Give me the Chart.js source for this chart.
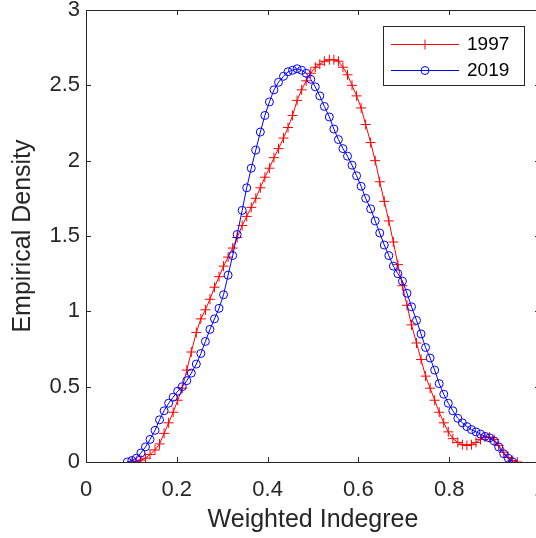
<!DOCTYPE html>
<html>
<head>
<meta charset="utf-8">
<script src="https://cdn.jsdelivr.net/npm/chart.js@4.4.1/dist/chart.umd.min.js"></script>
<style>
  html, body { margin: 0; padding: 0; background: #fff; overflow: hidden; }
  #wrap { width: 550px; height: 538px; }
</style>
</head>
<body>
<div id="wrap"><canvas id="density-chart" width="550" height="538"></canvas></div>
<script>
// Kernel density estimate, evaluated on a shared grid of weighted indegree values
const weights = [0.091, 0.101, 0.111, 0.121, 0.131, 0.141, 0.152, 0.162, 0.172, 0.182,
  0.192, 0.202, 0.212, 0.222, 0.232, 0.243, 0.253, 0.263, 0.273, 0.283,
  0.293, 0.303, 0.313, 0.323, 0.333, 0.344, 0.354, 0.364, 0.374, 0.384,
  0.394, 0.404, 0.414, 0.424, 0.435, 0.445, 0.455, 0.465, 0.475, 0.485,
  0.495, 0.505, 0.515, 0.525, 0.536, 0.546, 0.556, 0.566, 0.576, 0.586,
  0.596, 0.606, 0.616, 0.627, 0.637, 0.647, 0.657, 0.667, 0.677, 0.687,
  0.697, 0.707, 0.717, 0.728, 0.738, 0.748, 0.758, 0.768, 0.778, 0.788,
  0.798, 0.808, 0.819, 0.829, 0.839, 0.849, 0.859, 0.869, 0.879, 0.889,
  0.899, 0.909, 0.920, 0.930, 0.940, 0.950];

const density1997 = [null, 0.00, 0.005, 0.012, 0.025, 0.05, 0.08, 0.12, 0.19, 0.26,
  0.33, 0.41, 0.49, 0.61, 0.73, 0.86, 0.95, 1.01, 1.08, 1.16,
  1.23, 1.30, 1.36, 1.42, 1.49, 1.57, 1.63, 1.69, 1.75, 1.82,
  1.89, 1.95, 2.02, 2.08, 2.15, 2.22, 2.30, 2.40, 2.47, 2.53,
  2.58, 2.62, 2.64, 2.66, 2.67, 2.67, 2.66, 2.62, 2.57, 2.50,
  2.43, 2.35, 2.24, 2.12, 2.00, 1.86, 1.73, 1.60, 1.46, 1.31,
  1.17, 1.04, 0.91, 0.79, 0.68, 0.57, 0.49, 0.41, 0.33, 0.26,
  0.20, 0.155, 0.13, 0.115, 0.11, 0.115, 0.13, 0.15, 0.165, 0.165,
  0.15, 0.11, 0.065, 0.03, 0.01, 0.00];

const density2019 = [0.00, 0.01, 0.025, 0.06, 0.10, 0.15, 0.21, 0.28, 0.34, 0.39,
  0.43, 0.47, 0.50, 0.54, 0.59, 0.65, 0.72, 0.80, 0.88, 0.95,
  1.02, 1.11, 1.24, 1.37, 1.51, 1.67, 1.82, 1.95, 2.07, 2.19,
  2.30, 2.39, 2.47, 2.52, 2.56, 2.59, 2.60, 2.61, 2.60, 2.58,
  2.54, 2.49, 2.43, 2.36, 2.29, 2.21, 2.14, 2.08, 2.03, 1.97,
  1.90, 1.83, 1.75, 1.68, 1.60, 1.52, 1.44, 1.37, 1.30, 1.25,
  1.20, 1.12, 1.03, 0.94, 0.85, 0.76, 0.69, 0.61, 0.52, 0.45,
  0.39, 0.34, 0.29, 0.26, 0.235, 0.215, 0.20, 0.185, 0.17, 0.16,
  0.14, 0.10, 0.055, 0.025, 0.00, null];

const seriesNames = ['1997', '2019'];
const xTicks = [0, 0.2, 0.4, 0.6, 0.8, 1];
const yTicks = [0, 0.5, 1, 1.5, 2, 2.5, 3];

const AXIS_COLOR = '#262626';
const FONT = 'Liberation Sans, Arial, Helvetica, sans-serif';

const toPoints = (ys) => weights.map((w, i) => ({x: w, y: ys[i]}));
const fmt = (v) => String(Number(v.toFixed(2)));

// no extra room for overhanging tick labels, the frame stays where MATLAB put it
const noOverhang = (scale) => {
    scale.paddingLeft = 0;
    scale.paddingRight = 0;
    scale.paddingTop = 0;
    scale.paddingBottom = 0;
};

// MATLAB style frame with inward tick marks on all four sides
const axesBox = {
    id: 'axesBox',
    afterDatasetsDraw(chart) {
        const {ctx, chartArea: a, scales} = chart;
        ctx.save();
        ctx.strokeStyle = AXIS_COLOR;
        ctx.lineWidth = 1;
        ctx.beginPath();
        ctx.rect(Math.round(a.left) + 0.5, Math.round(a.top) + 0.5,
            Math.round(a.right - a.left), Math.round(a.bottom - a.top));
        xTicks.forEach((v) => {
            const px = Math.round(scales.x.getPixelForValue(v)) + 0.5;
            ctx.moveTo(px, a.bottom); ctx.lineTo(px, a.bottom - 5);
            ctx.moveTo(px, a.top); ctx.lineTo(px, a.top + 5);
        });
        yTicks.forEach((v) => {
            const py = Math.round(scales.y.getPixelForValue(v)) + 0.5;
            ctx.moveTo(a.left, py); ctx.lineTo(a.left + 5, py);
            ctx.moveTo(a.right, py); ctx.lineTo(a.right - 5, py);
        });
        ctx.stroke();
        ctx.restore();
    }
};

// Boxed legend in the upper right, line + marker samples
const boxLegend = {
    id: 'boxLegend',
    afterDraw(chart) {
        const {ctx} = chart;
        const box = {x: 383.5, y: 26.5, w: 141, h: 59};
        ctx.save();
        ctx.fillStyle = '#fff';
        ctx.fillRect(box.x, box.y, box.w, box.h);
        ctx.strokeStyle = AXIS_COLOR;
        ctx.lineWidth = 1;
        ctx.strokeRect(box.x, box.y, box.w, box.h);
        chart.data.datasets.forEach((ds, i) => {
            const rowY = 44 + i * 26;
            ctx.strokeStyle = ds.borderColor;
            ctx.lineWidth = 1;
            ctx.beginPath();
            ctx.moveTo(391, rowY + 0.5);
            ctx.lineTo(459, rowY + 0.5);
            ctx.stroke();
            ctx.fillStyle = 'rgba(0,0,0,0)';
            ctx.strokeStyle = ds.pointBorderColor;
            Chart.helpers.drawPoint(ctx, {
                pointStyle: ds.pointStyle,
                radius: ds.pointRadius,
                borderWidth: 1
            }, 425, rowY + 0.5);
            ctx.fillStyle = '#000';
            ctx.font = '19px ' + FONT;
            ctx.textBaseline = 'middle';
            ctx.textAlign = 'left';
            ctx.fillText(seriesNames[i], 467, rowY + 1);
        });
        ctx.restore();
    }
};

const chart = new Chart(document.getElementById('density-chart'), {
    type: 'line',
    data: {
        datasets: [{
            label: seriesNames[0],
            data: toPoints(density1997),
            borderColor: '#ff0000',
            borderWidth: 1,
            pointStyle: 'cross',
            pointRadius: 5,
            pointBorderWidth: 1,
            pointBorderColor: '#ff0000',
            pointBackgroundColor: 'rgba(0,0,0,0)',
            tension: 0,
            order: 1
        }, {
            label: seriesNames[1],
            data: toPoints(density2019),
            borderColor: '#0000ff',
            borderWidth: 1,
            pointStyle: 'circle',
            pointRadius: 4,
            pointBorderWidth: 1,
            pointBorderColor: '#0000ff',
            pointBackgroundColor: 'rgba(0,0,0,0)',
            tension: 0,
            order: 0
        }]
    },
    options: {
        responsive: false,
        animation: false,
        events: [],
        layout: {
            autoPadding: false,
            padding: {left: 0, top: 10, right: 10, bottom: 0}
        },
        plugins: {
            legend: {display: false},
            tooltip: {enabled: false}
        },
        scales: {
            x: {
                type: 'linear',
                min: 0,
                max: 1,
                afterBuildTicks: (scale) => { scale.ticks = xTicks.map((v) => ({value: v})); },
                afterFit: (scale) => { scale.height = 76; noOverhang(scale); },
                grid: {display: false, drawTicks: false},
                border: {display: false},
                ticks: {
                    padding: 15,
                    maxRotation: 0,
                    color: AXIS_COLOR,
                    font: {family: FONT, size: 22},
                    callback: (v) => fmt(v)
                },
                title: {
                    display: true,
                    text: 'Weighted Indegree',
                    color: AXIS_COLOR,
                    font: {family: FONT, size: 25},
                    padding: {top: 0, bottom: 3}
                }
            },
            y: {
                type: 'linear',
                min: 0,
                max: 3,
                afterBuildTicks: (scale) => { scale.ticks = yTicks.map((v) => ({value: v})); },
                afterFit: (scale) => { scale.width = 86; noOverhang(scale); },
                grid: {display: false, drawTicks: false},
                border: {display: false},
                ticks: {
                    padding: 6,
                    color: AXIS_COLOR,
                    font: {family: FONT, size: 22},
                    callback: (v) => fmt(v)
                },
                title: {
                    display: true,
                    text: 'Empirical Density',
                    color: AXIS_COLOR,
                    font: {family: FONT, size: 25},
                    padding: {top: 8, bottom: 0}
                }
            }
        }
    },
    plugins: [axesBox, boxLegend]
});
</script>
</body>
</html>
